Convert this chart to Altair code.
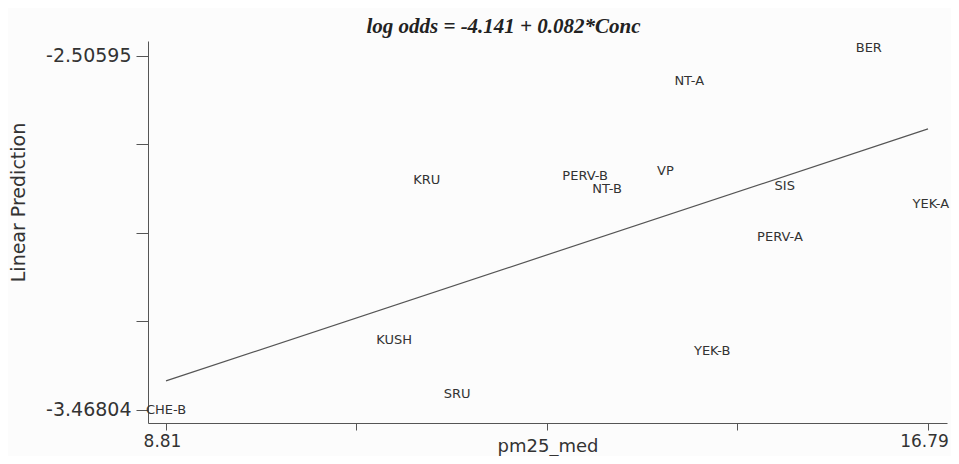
import altair as alt
import pandas as pd

# site labels and their (pm25_med, linear prediction) positions
sites = ["BER", "NT-A", "KRU", "PERV-B", "NT-B", "VP", "SIS", "YEK-A",
         "PERV-A", "KUSH", "SRU", "YEK-B", "CHE-B"]
pm25 = [16.17, 14.29, 11.54, 13.20, 13.43, 14.04, 15.29, 16.82,
        15.24, 11.20, 11.86, 14.53, 8.81]
pred = [-2.484, -2.574, -2.843, -2.832, -2.867, -2.819, -2.859, -2.908,
        -2.998, -3.278, -3.425, -3.308, -3.468]

# fitted line end points
fit_x = [8.81, 16.79]
fit_y = [-3.389, -2.704]

x_ticks = [8.81, 10.805, 12.80, 14.795, 16.79]
x_tick_labels = ["8.81", "", "", "", "16.79"]
y_ticks = [-3.46804, -3.22752, -2.98700, -2.74647, -2.50595]
y_tick_labels = ["-3.46804", "", "", "", "-2.50595"]

title_text = "log odds = -4.141 + 0.082*Conc"

pts = pd.DataFrame({"site": sites, "x": pm25, "y": pred})
fit = pd.DataFrame({"x": fit_x, "y": fit_y})

def label_expr(ticks, labels):
    expr = "''"
    for t, l in zip(ticks, labels):
        if l:
            expr = f"abs(datum.value - ({t})) < 1e-6 ? '{l}' : " + expr
    return expr

xscale = alt.Scale(domain=[8.6215, 16.989], nice=False, zero=False)
yscale = alt.Scale(domain=[-3.5034, -2.4652], nice=False, zero=False)

axis_common = dict(grid=False, domainColor="#555", tickColor="#555",
                   labelFont="DejaVu Sans", labelColor="#333",
                   titleFont="DejaVu Sans", titleColor="#333", titleFontWeight="normal")

xaxis = alt.Axis(values=x_ticks, labelExpr=label_expr(x_ticks, x_tick_labels),
                 title="pm25_med", tickSize=7, labelFontSize=17, labelPadding=3,
                 labelOffset=-4, titleFontSize=18, titleY=28, titleBaseline="alphabetic",
                 labelFlush=False, **axis_common)
yaxis = alt.Axis(values=y_ticks, labelExpr=label_expr(y_ticks, y_tick_labels),
                 title="Linear Prediction", tickSize=12, labelFontSize=19, labelPadding=5,
                 titleFontSize=19, titleX=-130, titleY=161, titleAlign="center",
                 titleBaseline="middle", **axis_common)

line = alt.Chart(fit).mark_line(color="#555", strokeWidth=1.2).encode(
    x=alt.X("x:Q", scale=xscale, axis=xaxis),
    y=alt.Y("y:Q", scale=yscale, axis=yaxis),
)

text = alt.Chart(pts).mark_text(font="DejaVu Sans", fontSize=13, color="#333",
                                align="center", baseline="middle").encode(
    x=alt.X("x:Q", scale=xscale),
    y=alt.Y("y:Q", scale=yscale),
    text="site:N",
)

chart = (line + text).properties(
    width=799, height=382,
    title=alt.Title(title_text, font="Liberation Serif", fontSize=21,
                    fontStyle="italic", fontWeight="bold", color="#222",
                    dx=-44, offset=4),
    autosize=alt.AutoSizeParams(type="none"),
    padding={"left": 140, "top": 33, "right": 4, "bottom": 33},
    background="#fcfcfc",
).configure_view(stroke=None)

chart.save("out.html", embed_options={"renderer": "svg", "actions": False})
